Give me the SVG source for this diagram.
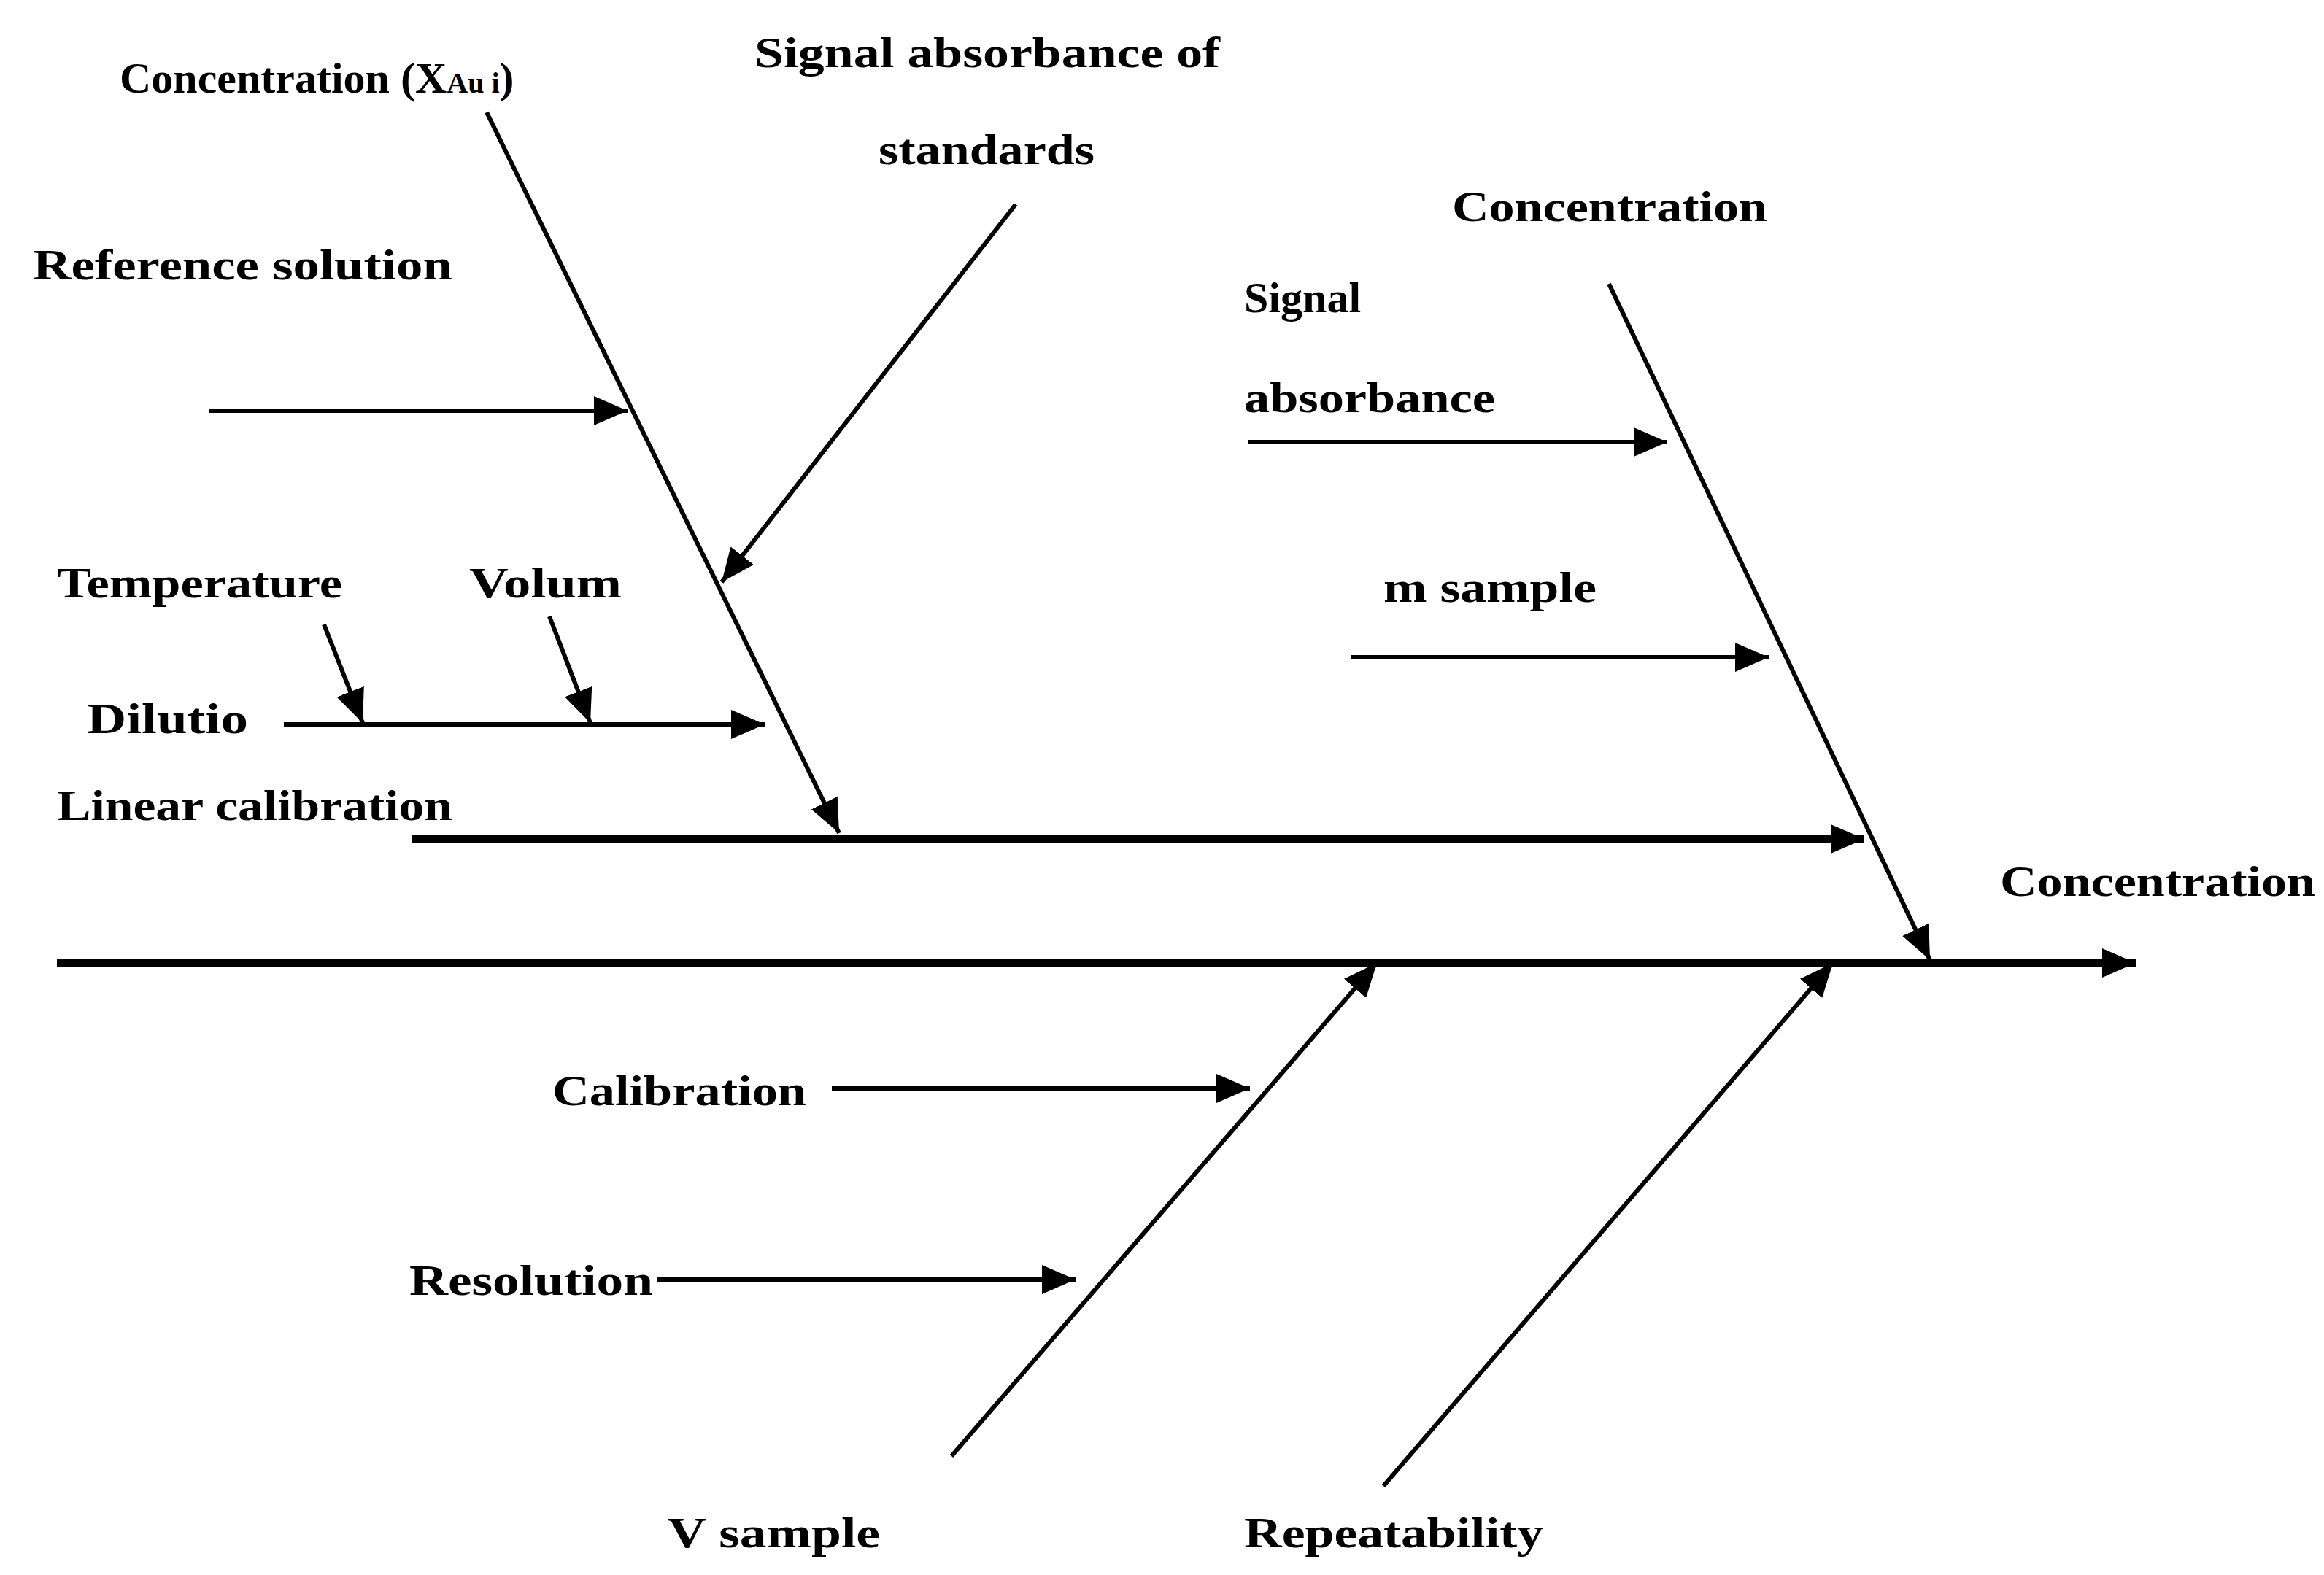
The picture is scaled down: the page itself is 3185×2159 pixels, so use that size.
<svg xmlns="http://www.w3.org/2000/svg" width="3185" height="2159" viewBox="0 0 3185 2159">
<style>
.t{font-family:"Liberation Serif","Times New Roman",serif;font-weight:bold;font-size:60px;fill:#000}
.l{stroke:#000;stroke-width:6;fill:none}
.k{stroke:#000;stroke-width:10;fill:none}
</style>
<defs>
<marker id="a" markerUnits="userSpaceOnUse" markerWidth="50" markerHeight="40" refX="46" refY="20" orient="auto">
<path d="M0,0 L46,20 L0,40 Z" fill="#000"/>
</marker>
</defs>
<rect width="3185" height="2159" fill="#fff"/>
<g id="connectors">
<line class="k" x1="78" y1="1320" x2="2927" y2="1320" marker-end="url(#a)"/>
<line class="k" x1="565" y1="1150" x2="2555" y2="1150" marker-end="url(#a)"/>
<line class="l" x1="667" y1="154" x2="1150" y2="1142" marker-end="url(#a)"/>
<line class="l" x1="1392" y1="280" x2="989" y2="798" marker-end="url(#a)"/>
<line class="l" x1="287" y1="563" x2="860" y2="563" marker-end="url(#a)"/>
<line class="l" x1="389" y1="993" x2="1048" y2="993" marker-end="url(#a)"/>
<line class="l" x1="444" y1="856" x2="497" y2="991" marker-end="url(#a)"/>
<line class="l" x1="753" y1="845" x2="809" y2="991" marker-end="url(#a)"/>
<line class="l" x1="2205" y1="389" x2="2645" y2="1316" marker-end="url(#a)"/>
<line class="l" x1="1711" y1="606" x2="2285" y2="606" marker-end="url(#a)"/>
<line class="l" x1="1851" y1="901" x2="2424" y2="901" marker-end="url(#a)"/>
<line class="l" x1="1304" y1="1996" x2="1887" y2="1320" marker-end="url(#a)"/>
<line class="l" x1="1896" y1="2037" x2="2512" y2="1320" marker-end="url(#a)"/>
<line class="l" x1="1140" y1="1492" x2="1713" y2="1492" marker-end="url(#a)"/>
<line class="l" x1="901" y1="1754" x2="1474" y2="1754" marker-end="url(#a)"/>
</g>
<g id="n1"><text class="t" x="164" y="127">Concentration (X<tspan font-size="40">Au i</tspan>)</text></g>
<g id="n2"><text class="t" x="1034" y="92" textLength="638" lengthAdjust="spacingAndGlyphs">Signal absorbance of</text>
<text class="t" x="1204" y="225" textLength="296" lengthAdjust="spacingAndGlyphs">standards</text></g>
<g id="n3"><text class="t" x="45" y="383" textLength="575" lengthAdjust="spacingAndGlyphs">Reference solution</text></g>
<g id="n4"><text class="t" x="1990" y="303" textLength="432" lengthAdjust="spacingAndGlyphs">Concentration</text></g>
<g id="n5"><text class="t" x="1705" y="428">Signal</text>
<text class="t" x="1705" y="565" textLength="344" lengthAdjust="spacingAndGlyphs">absorbance</text></g>
<g id="n6"><text class="t" x="78" y="819" textLength="391" lengthAdjust="spacingAndGlyphs">Temperature</text></g>
<g id="n7"><text class="t" x="643" y="819" textLength="209" lengthAdjust="spacingAndGlyphs">Volum</text></g>
<g id="n8"><text class="t" x="1896" y="825" textLength="292" lengthAdjust="spacingAndGlyphs">m sample</text></g>
<g id="n9"><text class="t" x="119" y="1005" textLength="221" lengthAdjust="spacingAndGlyphs">Dilutio</text></g>
<g id="n10"><text class="t" x="78" y="1124" textLength="542" lengthAdjust="spacingAndGlyphs">Linear calibration</text></g>
<g id="n11"><text class="t" x="2741" y="1228" textLength="432" lengthAdjust="spacingAndGlyphs">Concentration</text></g>
<g id="n12"><text class="t" x="757" y="1515" textLength="348" lengthAdjust="spacingAndGlyphs">Calibration</text></g>
<g id="n13"><text class="t" x="561" y="1775" textLength="334" lengthAdjust="spacingAndGlyphs">Resolution</text></g>
<g id="n14"><text class="t" x="915" y="2121" textLength="291" lengthAdjust="spacingAndGlyphs">V sample</text></g>
<g id="n15"><text class="t" x="1705" y="2121" textLength="410" lengthAdjust="spacingAndGlyphs">Repeatability</text></g>
</svg>
